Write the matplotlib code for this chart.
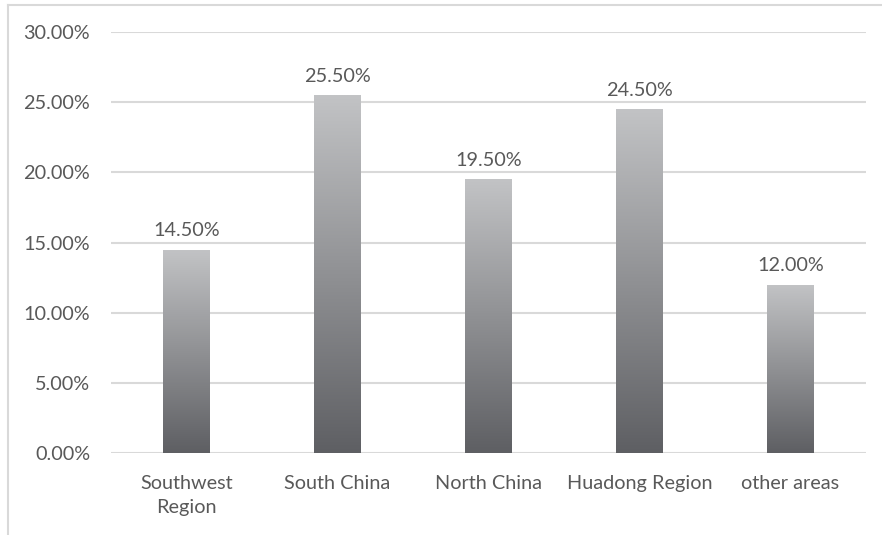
import numpy as np
import matplotlib
matplotlib.use("Agg")
import matplotlib.pyplot as plt
from matplotlib.colors import LinearSegmentedColormap
from matplotlib.patches import Rectangle
from matplotlib.lines import Line2D

categories = ["Southwest\nRegion", "South China", "North China", "Huadong Region", "other areas"]
values = [14.5, 25.5, 19.5, 24.5, 12.0]
yticks = [0, 5, 10, 15, 20, 25, 30]

plt.rcParams['font.family'] = ['Lato', 'DejaVu Sans']
txt = "#595959"
fs = 14.3

fig = plt.figure(figsize=(8.82, 5.35), dpi=100)
ax = fig.add_axes([111/882, 1-453/535, (866-111)/882, (453-32)/535])

cmap = LinearSegmentedColormap.from_list("g", ["#5e5f63", "#c2c3c5"])
grad = np.linspace(0, 1, 256).reshape(-1, 1)
bw = 0.31
x = np.arange(len(categories))
ax.set_xlim(-0.5, len(categories) - 0.5)
ax.set_ylim(0, 30)

for t in yticks:
    ax.axhline(t, color="#d9d9d9", lw=1.5, zorder=0)

for xi, v in zip(x, values):
    rect = Rectangle((xi - bw/2, 0), bw, v, facecolor="none", edgecolor="none")
    ax.add_patch(rect)
    im = ax.imshow(grad, cmap=cmap, aspect="auto", origin="lower",
                   extent=(xi - bw/2, xi + bw/2, 0, v), zorder=2)
    im.set_clip_path(rect)
    ax.text(xi, v + 0.75, f"{v:.2f}%", ha="center", va="bottom", fontsize=fs, color=txt)

ax.set_xticks(x)
ax.set_xticklabels(categories, fontsize=fs, color=txt, linespacing=1.5)
ax.set_yticks(yticks)
ax.set_yticklabels([f"{t:.2f}%" for t in yticks], fontsize=fs, color=txt)
ax.tick_params(length=0, pad=15, axis="y")
ax.tick_params(length=0, pad=16, axis="x")
for s in ax.spines.values():
    s.set_visible(False)

# outer chart border (partially cropped)
fig.add_artist(Line2D([8/882, 8/882], [0, 1-5/535], color="#d9d9d9", lw=1.5, transform=fig.transFigure))
fig.add_artist(Line2D([8/882, 1], [1-5/535, 1-5/535], color="#d9d9d9", lw=1.5, transform=fig.transFigure))

fig.savefig("out.png", dpi=100)
